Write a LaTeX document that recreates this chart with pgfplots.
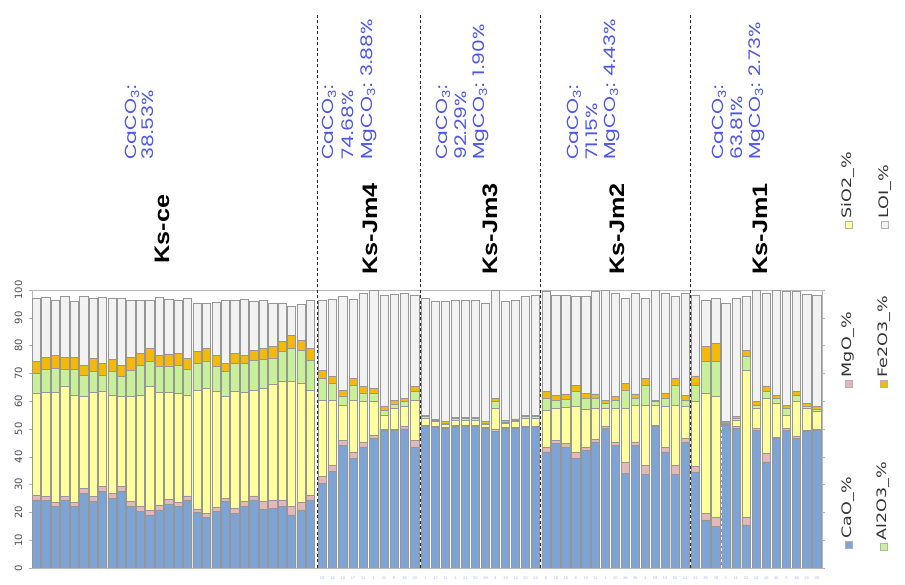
\documentclass[border=0pt]{standalone}
\usepackage{fontspec}
\setmainfont{Liberation Sans}
\newfontfamily\pop{Poppins}
\newfontfamily\dvs{DejaVu Sans}
\usepackage{pgfplots}
\usepackage{pgfplotstable}
\pgfplotsset{compat=1.18}
\definecolor{cao}{RGB}{126,164,214}
\definecolor{mgo}{RGB}{228,184,184}
\definecolor{sio}{RGB}{255,255,158}
\definecolor{alo}{RGB}{200,240,155}
\definecolor{feo}{RGB}{245,185,10}
\definecolor{loi}{RGB}{242,242,242}
\definecolor{barline}{RGB}{150,150,150}
\definecolor{annot}{RGB}{75,85,235}
% cumulative tops of the stacked layers (CaO, +MgO, +SiO2, +Al2O3, +Fe2O3, +LOI)
\pgfplotstableread{
x ca mg si al fe loi
36.4 24.5 26.3 62.8 70.0 74.2 97.0
45.9 24.2 25.7 63.1 71.5 75.8 97.4
55.3 22.1 23.5 63.1 71.8 76.6 96.2
64.8 24.2 25.7 65.5 71.5 75.8 97.6
74.2 22.1 23.5 62.2 71.5 75.8 95.8
83.7 26.9 28.7 61.6 69.4 73.0 97.6
93.1 23.9 25.7 63.1 70.6 75.4 97.2
102.6 27.5 29.3 63.4 69.4 73.6 97.4
112.0 25.1 26.9 62.2 70.6 75.0 97.2
121.5 27.5 29.3 61.6 68.8 73.0 97.0
130.9 22.1 23.9 61.6 71.2 75.8 96.2
140.4 20.3 22.1 62.2 73.0 77.2 96.2
149.8 19.1 20.9 65.2 74.2 79.0 96.4
159.3 20.9 22.7 63.1 72.7 76.6 97.4
168.7 23.0 24.7 63.1 72.7 77.0 96.8
178.2 22.1 23.5 62.8 73.0 77.2 96.4
187.6 24.5 25.9 62.2 71.5 75.4 97.0
197.1 19.9 21.3 64.0 73.6 77.8 95.2
206.5 18.2 19.7 64.6 74.5 79.0 95.2
216.0 20.3 22.0 63.4 72.4 76.6 95.6
225.4 23.9 25.0 61.6 70.6 73.6 96.2
234.9 19.7 21.5 63.4 73.6 77.2 96.4
244.3 22.1 23.9 63.1 73.6 76.6 96.6
253.8 24.5 25.9 64.0 74.8 78.4 95.8
263.2 21.1 23.9 64.6 75.0 79.0 96.4
272.7 21.5 24.2 66.2 75.4 79.6 95.4
282.1 22.1 24.5 67.0 77.8 81.4 95.2
291.6 19.1 22.1 67.0 79.0 83.8 94.2
301.0 20.9 23.5 66.4 78.4 82.0 95.0
310.5 24.5 26.3 64.0 74.8 79.0 96.2
322.2 30.5 32.9 60.4 68.2 71.2 96.4
332.5 34.7 37.0 60.4 66.4 69.0 96.6
342.8 44.2 46.0 58.6 61.9 64.0 97.6
353.1 39.4 41.8 60.4 65.8 68.2 96.6
363.4 43.6 45.4 59.8 63.0 65.2 98.8
373.7 46.6 47.8 59.8 63.0 64.6 99.8
384.0 49.6 50.0 55.0 56.8 58.3 98.2
394.3 49.6 50.0 57.4 59.0 60.2 98.6
404.6 50.0 50.8 58.0 59.8 61.0 98.8
414.9 43.6 45.8 60.4 63.4 65.2 98.2
425.5 50.8 51.2 53.8 54.4 55.0 97.0
435.5 50.6 51.0 52.6 53.0 53.5 95.8
445.5 50.2 50.6 51.8 52.2 52.6 95.8
455.5 50.8 51.2 53.2 53.7 54.2 96.4
465.5 50.8 51.2 53.2 53.7 54.2 96.4
475.5 50.8 51.2 53.2 53.7 54.2 96.4
485.5 50.2 50.6 51.8 52.2 52.6 95.2
495.5 49.0 49.9 57.4 59.8 61.0 100.0
505.5 50.2 50.6 52.0 52.5 53.0 95.8
515.5 50.2 50.6 52.6 53.1 53.6 96.4
525.5 50.6 51.0 53.8 54.4 55.0 97.6
535.5 50.6 51.0 53.8 54.4 55.0 98.2
546.0 41.8 43.6 56.8 61.0 63.4 99.4
555.9 44.8 45.8 57.4 60.4 62.2 98.2
565.8 43.6 44.8 57.8 60.7 62.6 98.2
575.8 39.4 41.5 58.0 63.4 65.8 97.6
585.7 42.4 43.6 57.1 61.0 62.8 97.6
595.6 45.4 46.3 57.4 61.0 62.6 99.4
605.6 50.2 50.8 57.4 59.4 60.4 100.0
615.5 44.2 45.4 57.4 60.4 61.6 98.8
625.4 34.0 38.2 57.4 64.0 66.4 97.0
635.4 44.2 45.4 58.6 61.0 62.6 98.8
645.3 33.8 37.0 58.6 65.8 68.2 97.0
655.2 50.8 51.4 58.6 59.8 60.4 100.0
665.2 41.8 43.6 58.0 61.0 63.0 98.8
675.1 33.8 37.0 58.6 65.8 68.2 97.6
685.0 45.4 46.6 58.0 60.4 62.2 98.8
695.6 34.3 36.5 59.8 65.8 69.1 98.2
705.7 17.3 19.7 62.8 74.2 79.6 96.4
715.8 15.1 18.2 61.6 74.2 80.8 97.0
725.9 51.4 51.8 52.2 52.5 52.8 95.3
736.0 50.2 50.8 53.2 54.0 54.4 97.0
746.1 15.5 18.2 71.2 76.0 78.4 97.6
756.2 49.6 50.2 57.4 58.6 59.8 100.0
766.3 38.2 41.2 61.0 63.4 65.5 98.8
776.4 46.6 47.2 59.2 61.0 62.2 100.0
786.5 49.6 50.2 55.0 57.4 58.6 99.4
796.6 46.6 47.5 59.8 62.2 63.4 99.4
806.7 49.0 49.4 57.4 58.3 59.2 98.6
816.8 49.4 49.8 56.2 57.2 58.0 98.2
}\data

\begin{document}
\begin{tikzpicture}[x=1pt,y=1pt]
\path[use as bounding box] (0,0) rectangle (905,585);
\begin{axis}[
  at={(31.7pt,17pt)}, anchor=south west,
  scale only axis, width=790.1pt, height=278pt,
  xmin=31.7, xmax=821.8, ymin=0, ymax=100,
  axis line style={draw=gray!55},
  ytick={0,10,...,100},
  yticklabel style={font=\dvs\fontsize{10}{10}\selectfont, text=black!70, rotate=90, anchor=south},
  yticklabel shift=3pt,
  /pgf/number format/assume math mode=true,
  tick align=outside, major tick length=3pt,
  y tick style={gray!60},
  x tick style={draw=none},
  xtick={322.2,332.5,342.8,353.1,363.4,373.7,384.0,394.3,404.6,414.9,425.5,435.5,445.5,455.5,465.5,475.5,485.5,495.5,505.5,515.5,525.5,535.5,546.0,555.9,565.8,575.8,585.7,595.6,605.6,615.5,625.4,635.4,645.3,655.2,665.2,675.1,685.0,695.6,705.7,715.8,725.9,736.0,746.1,756.2,766.3,776.4,786.5,796.6,806.7,816.8},
  xticklabels={15,16,10,17,11,1,22,8,36,40,1,17,11,1,21,35,38,4,19,13,20,22,6,18,15,8,19,11,1,20,38,36,4,19,13,20,12,21,35,38,1,11,22,15,18,36,5,36,29,30},
  xticklabel style={font=\fontsize{4}{4}\selectfont, text=annot!45},
  xticklabel shift=2pt,
  every axis plot/.append style={ybar, bar width=8.3, bar shift=0pt, draw=barline, line width=0.55pt},
]
\addplot[fill=loi] table[x=x,y=loi]{\data};
\addplot[fill=feo] table[x=x,y=fe]{\data};
\addplot[fill=alo] table[x=x,y=al]{\data};
\addplot[fill=sio] table[x=x,y=si]{\data};
\addplot[fill=mgo] table[x=x,y=mg]{\data};
\addplot[fill=cao] table[x=x,y=ca]{\data};
\end{axis}
% section separators
\foreach \sx in {317,420.4,540.8,690.2}
  \draw[black!85, line width=0.8pt, dash pattern=on 3pt off 2.5pt] (\sx,17) -- (\sx,570);
\draw[white, line width=0.8pt, dash pattern=on 3pt off 2.5pt] (720.9,17) -- (720.9,160);
% group labels
\foreach \gx/\gl in {162/Ks-ce,370/Ks-Jm4,490/Ks-Jm3,617/Ks-Jm2,760/Ks-Jm1}
  \node[rotate=90, xscale=1.2, inner sep=0, font=\bfseries\fontsize{21}{21}\selectfont] at (\gx,356) {\gl};
% carbonate annotations
\tikzset{ann/.style={rotate=90, xscale=1.27, anchor=north west, align=left, inner sep=0, text=annot}}
\node[ann, font=\pop\fontsize{16}{16.7}\selectfont] at (125,425) {CaCO\textsubscript{3}:\\38.53\%};
\node[ann, font=\pop\fontsize{16}{19.5}\selectfont] at (322,425) {CaCO\textsubscript{3}:\\74.68\%\\MgCO\textsubscript{3}: 3.88\%};
\node[ann, font=\pop\fontsize{16}{18.5}\selectfont] at (436,425) {CaCO\textsubscript{3}:\\92.29\%\\MgCO\textsubscript{3}: 1.90\%};
\node[ann, font=\pop\fontsize{16}{18.5}\selectfont] at (567,425) {CaCO\textsubscript{3}:\\71.15\%\\MgCO\textsubscript{3}: 4.43\%};
\node[ann, font=\pop\fontsize{16}{18.5}\selectfont] at (712,425) {CaCO\textsubscript{3}:\\63.81\%\\MgCO\textsubscript{3}: 2.73\%};
% legend
\tikzset{lgt/.style={rotate=90, anchor=west, inner sep=0, xscale=1.35, font=\dvs\fontsize{13}{13}\selectfont, text=black!80}}
\foreach \lx/\ly/\lc/\lt in {848.5/40/cao/CaO\_\%, 883.5/38.5/alo/Al2O3\_\%, 848.5/201.5/mgo/MgO\_\%, 884/201.5/feo/Fe2O3\_\%, 848.5/360/sio/SiO2\_\%, 885/360/loi/LOI\_\%}{
  \filldraw[fill=\lc, draw=gray!60, line width=0.5pt] (\lx-3.5,\ly-3.5) rectangle (\lx+3.5,\ly+3.5);
  \node[lgt] at (\lx,\ly+6) {\lt};
}
\end{tikzpicture}
\end{document}
